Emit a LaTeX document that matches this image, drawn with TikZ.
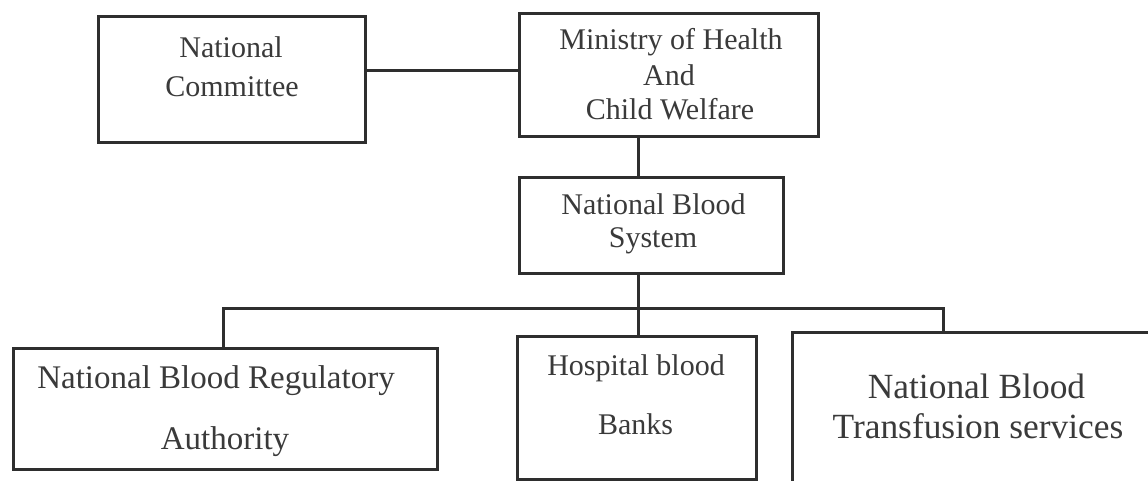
\documentclass[tikz,border=0pt]{standalone}
\usepackage{fontspec}
\setmainfont{Liberation Serif}
\usetikzlibrary{calc}
\definecolor{ink}{HTML}{2E2E2E}
\definecolor{txt}{HTML}{3A3A3A}
\begin{document}
\begin{tikzpicture}[x=0.5pt,y=-0.5pt,
  box/.style={draw=ink,line width=1.5pt,inner sep=0pt,rectangle},
  wire/.style={draw=ink,line width=1.5pt},
  lbl/.style={anchor=base,inner sep=0pt,text=txt},
  f30/.style={font=\fontsize{15}{18}\selectfont},
  f33/.style={font=\fontsize{16.5}{20}\selectfont},
  f35/.style={font=\fontsize{17.7}{21}\selectfont}]
\useasboundingbox (0,0) rectangle (1148,481);
\clip (0,0) rectangle (1148,481);
\fill[white] (0,0) rectangle (1148,481);

% boxes
\node[box,minimum width=133.5pt,minimum height=63pt]   (committee) at (231.5,80)  {};
\node[box,minimum width=149.5pt,minimum height=61.5pt] (ministry)  at (668.5,75.5) {};
\node[box,minimum width=132pt,minimum height=48pt]     (nbs)       at (651,226)   {};
\node[box,minimum width=212pt,minimum height=60pt]     (reg)       at (225,409)   {};
\node[box,minimum width=119.5pt,minimum height=71pt]   (hosp)      at (636.5,408) {};
\node[box,minimum width=189pt,minimum height=93.5pt]   (trans)     at (981,426.5) {};

% labels
\node[lbl,f30] (committee-a) at (231,58) {National};
\node[lbl,f30] (committee-b) at (232,97) {Committee};
\node[lbl,f30] (ministry-a) at (671,50) {Ministry of Health};
\node[lbl,f30] (ministry-b) at (669,86) {And};
\node[lbl,f30] (ministry-c) at (670,120) {Child Welfare};
\node[lbl,f30] (nbs-a) at (653.5,215) {National Blood};
\node[lbl,f30] (nbs-b) at (653,248) {System};
\node[lbl,f33] (reg-a) at (216,388) {National Blood Regulatory};
\node[lbl,f33] (reg-b) at (225,450) {Authority};
\node[lbl,f30] (hosp-a) at (636,375) {Hospital blood};
\node[lbl,f30] (hosp-b) at (635.5,435) {Banks};
\node[lbl,f35] (trans-a) at (976.5,399) {National Blood};
\node[lbl,f35] (trans-b) at (978,438) {Transfusion services};

% connectors
\coordinate (cm) at ($(committee.north east)!0.4286!(committee.south east)$);
\draw[wire] (cm) -- (cm -| ministry.west);
\coordinate (spine) at (638,309);
\coordinate (tdrop) at (943,309);
\coordinate (rdrop) at (223,309);
\draw[wire] (spine |- ministry.south) -- (spine |- nbs.north);
\draw[wire] (spine |- nbs.south) -- (spine |- hosp.north);
\draw[wire] (rdrop |- reg.north) -- (rdrop) -- (tdrop) -- (tdrop |- trans.north);
\end{tikzpicture}
\end{document}
